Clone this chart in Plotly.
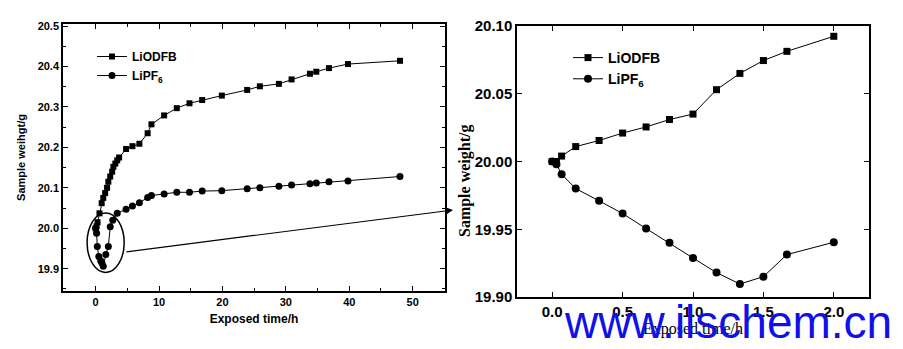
import plotly.graph_objects as go

# ---------------- data ----------------
# left panel (0-48 h)
left_odfb_t = [0, 0.15, 0.3, 0.6, 0.95, 1.2, 1.5, 1.8, 2.0, 2.3, 2.6, 2.8, 3.1, 3.4, 3.7,
               4.8, 5.8, 6.9, 8.2, 8.8, 10.8, 12.8, 14.8, 16.8, 19.9, 23.9, 25.9, 28.9,
               30.9, 33.8, 34.8, 36.8, 39.8, 48]
left_odfb_w = [20.0, 20.005, 20.015, 20.037, 20.062, 20.075, 20.087, 20.10, 20.115, 20.128,
               20.14, 20.152, 20.16, 20.168, 20.175, 20.196, 20.203, 20.209, 20.235, 20.257,
               20.279, 20.297, 20.309, 20.317, 20.328, 20.342, 20.351, 20.357, 20.368,
               20.382, 20.387, 20.396, 20.406, 20.414]
left_pf6_t = [0, 0.15, 0.26, 0.5, 0.8, 1.0, 1.2, 1.6, 2.0, 2.3, 2.7, 3.4, 4.8, 5.8, 6.9,
              8.2, 8.8, 10.8, 12.8, 14.8, 16.8, 19.9, 23.9, 25.9, 28.9, 30.9, 33.8, 34.8,
              36.8, 39.8, 48]
left_pf6_w = [20.0, 19.988, 19.955, 19.93, 19.92, 19.914, 19.906, 19.935, 19.955, 20.004,
              20.02, 20.037, 20.047, 20.055, 20.063, 20.076, 20.081, 20.085, 20.089,
              20.089, 20.092, 20.093, 20.098, 20.100, 20.104, 20.107, 20.110, 20.112,
              20.115, 20.117, 20.128]

# right panel (0-2 h)
right_t = [0, 0.03, 0.067, 0.167, 0.333, 0.5, 0.667, 0.833, 1.0, 1.167, 1.333, 1.5, 1.667, 2.0]
right_odfb_w = [20.000, 20.000, 20.004, 20.011, 20.0155, 20.021, 20.0255, 20.031, 20.035,
                20.053, 20.065, 20.0745, 20.0813, 20.0924]
right_pf6_w = [20.000, 19.998, 19.9906, 19.980, 19.971, 19.9616, 19.9505, 19.940, 19.9288,
               19.918, 19.9096, 19.915, 19.9313, 19.9404]

left_xticks = [0, 10, 20, 30, 40, 50]
left_yticks = [19.9, 20.0, 20.1, 20.2, 20.3, 20.4, 20.5]
right_xticks = [0.0, 0.5, 1.0, 1.5, 2.0]
right_yticks = [19.90, 19.95, 20.00, 20.05, 20.10]

SANS = "Liberation Sans, Arial, sans-serif"
SERIF = "Liberation Serif, Times New Roman, serif"

fig = go.Figure()

fig.add_trace(go.Scatter(x=left_odfb_t, y=left_odfb_w, name="LiODFB", mode="lines+markers",
                         line=dict(color="black", width=1),
                         marker=dict(symbol="square", size=6, color="black"),
                         xaxis="x", yaxis="y", legend="legend"))
fig.add_trace(go.Scatter(x=left_pf6_t, y=left_pf6_w, name="LiPF<sub>6</sub>", mode="lines+markers",
                         line=dict(color="black", width=1),
                         marker=dict(symbol="circle", size=7, color="black"),
                         xaxis="x", yaxis="y", legend="legend"))
fig.add_trace(go.Scatter(x=right_t, y=right_odfb_w, name="LiODFB", mode="lines+markers",
                         line=dict(color="black", width=1),
                         marker=dict(symbol="square", size=7, color="black"),
                         xaxis="x2", yaxis="y2", legend="legend2"))
fig.add_trace(go.Scatter(x=right_t, y=right_pf6_w, name="LiPF<sub>6</sub>", mode="lines+markers",
                         line=dict(color="black", width=1),
                         marker=dict(symbol="circle", size=8, color="black"),
                         xaxis="x2", yaxis="y2", legend="legend2"))

W, H = 903, 349

axis_common = dict(showgrid=False, zeroline=False, showline=True, linecolor="black",
                   linewidth=1.5, ticks="inside", tickcolor="black", mirror="ticks",
                   automargin=False)

fig.update_layout(
    width=W, height=H,
    margin=dict(l=0, r=0, t=0, b=0),
    paper_bgcolor="white", plot_bgcolor="white",
    xaxis=dict(domain=[63 / W, 445 / W], range=[-5.15, 55.1], tickvals=left_xticks,
               ticklen=5, minor=dict(dtick=5, tick0=0, ticks="inside", ticklen=3, tickcolor="black"),
               tickfont=dict(family=SANS, size=11, color="black", weight="bold"),
               title=dict(text="Exposed time/h", standoff=8,
                          font=dict(family=SANS, size=12, color="black", weight="bold")),
               anchor="y", **axis_common),
    yaxis=dict(domain=[1 - 291 / H, 1 - 24 / H], range=[19.845, 20.505], tickvals=left_yticks,
               tickformat=".1f", ticklen=5,
               minor=dict(dtick=0.05, tick0=19.9, ticks="inside", ticklen=3, tickcolor="black"),
               tickfont=dict(family=SANS, size=11, color="black", weight="bold"),
               title=dict(text="Sample weihgt/g", standoff=10,
                          font=dict(family=SANS, size=11, color="black", weight="bold")),
               anchor="x", **axis_common),
    xaxis2=dict(domain=[517 / W, 869 / W], range=[-0.25, 2.25], tickvals=right_xticks,
                tickformat=".1f", ticklen=5,
                tickfont=dict(family=SANS, size=15, color="black", weight="bold"),
                title=dict(text="Exposed time/h", standoff=2,
                           font=dict(family=SERIF, size=16, color="black")),
                anchor="y2", **axis_common),
    yaxis2=dict(domain=[1 - 297 / H, 1 - 26 / H], range=[19.90, 20.10], tickvals=right_yticks,
                tickformat=".2f", ticklen=5,
                tickfont=dict(family=SANS, size=15, color="black", weight="bold"),
                anchor="x2", **axis_common),
    legend=dict(x=92 / W, y=1 - 42 / H, xanchor="left", yanchor="top",
                bgcolor="rgba(0,0,0,0)", tracegroupgap=0,
                font=dict(family=SANS, size=12, color="black", weight="bold")),
    legend2=dict(x=568 / W, y=1 - 42 / H, xanchor="left", yanchor="top",
                 bgcolor="rgba(0,0,0,0)", tracegroupgap=0,
                 font=dict(family=SANS, size=14, color="black", weight="bold")),
    showlegend=True,
)

# right y-axis title placed as text (it sits below the axis centre in the original)
fig.add_annotation(text="Sample weight/g", xref="paper", yref="paper",
                   x=465 / W, y=1 - 181 / H, xanchor="center", yanchor="middle",
                   textangle=-90, showarrow=False,
                   font=dict(family=SERIF, size=16, color="black", weight="bold"))

# ellipse around the early-time region
fig.add_shape(type="circle", xref="x", yref="y", x0=-1.35, x1=4.5, y0=19.891, y1=20.038,
              line=dict(color="black", width=1.5))

# arrow from the ellipse to the zoomed panel
fig.add_annotation(text="", xref="paper", yref="paper", x=453 / W, y=1 - 210 / H,
                   ax=125 - 453, ay=252 - 210, axref="pixel", ayref="pixel",
                   showarrow=True, arrowhead=2, arrowsize=1.2, arrowwidth=1.2,
                   arrowcolor="black")

# watermark
fig.add_annotation(text="www.ilschem.cn", xref="paper", yref="paper",
                   x=728 / W, y=1 - 322 / H, xanchor="center", yanchor="middle",
                   showarrow=False,
                   font=dict(family=SANS, size=46, color="#1010e8"))

fig.write_html("out.html")
